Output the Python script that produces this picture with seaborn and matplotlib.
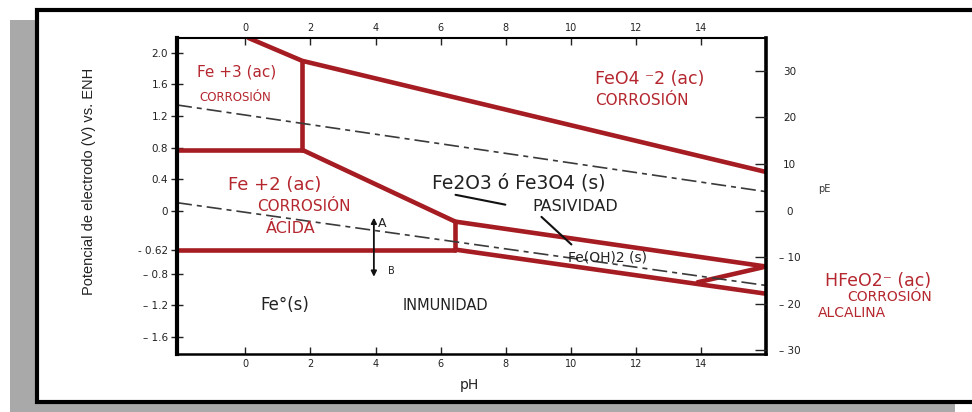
import matplotlib
matplotlib.use('Agg')
import matplotlib.pyplot as plt
import seaborn as sns
from matplotlib.patches import Rectangle

# boundary lines of the Pourbaix diagram (pH, potential V)
fe3_fe2_ph = [-2.1, 1.75]
fe3_fe2_v = [0.77, 0.77]
fe3_vert_ph = [1.75, 1.75]
fe3_vert_v = [0.77, 1.90]
feo4_ph = [0.1, 1.75, 16.0]
feo4_v = [2.19, 1.90, 0.49]
fe2_ox_ph = [1.75, 6.45]
fe2_ox_v = [0.77, -0.14]
fe2_vert_ph = [6.45, 6.45]
fe2_vert_v = [-0.14, -0.495]
fe_fe2_ph = [-2.1, 6.45]
fe_fe2_v = [-0.495, -0.495]
pas_up_ph = [6.45, 16.0]
pas_up_v = [-0.14, -0.71]
pas_low_ph = [6.45, 16.0]
pas_low_v = [-0.495, -1.055]
hfeo2_ph = [13.9, 15.9]
hfeo2_v = [-0.91, -0.72]
# water stability lines
o2_ph = [-2.1, 16.0]
o2_v = [1.34, 0.24]
h2_ph = [-2.1, 16.0]
h2_v = [0.10, -0.95]
# pointer lines
ptr1_ph = [6.46, 7.99]
ptr1_v = [0.20, 0.075]
ptr2_ph = [9.1, 10.02]
ptr2_v = [-0.08, -0.43]

x_ticks = [0, 2, 4, 6, 8, 10, 12, 14]
v_ticks = [2.0, 1.6, 1.2, 0.8, 0.4, 0, -0.495, -0.8, -1.2, -1.6]
v_labels = ['2.0', '1.6', '1.2', '0.8', '0.4', '0', '- 0.62', '– 0.8', '– 1.2', '– 1.6']
pe_ticks = [30, 20, 10, 0, -10, -20, -30]
pe_labels = ['30', '20', '10', '0', '– 10', '– 20', '– 30']

sns.set_style('white')
plt.rcParams['font.family'] = ['DejaVu Sans']

red = '#a51c22'
tred = '#b5272f'
ink = '#222222'

fig = plt.figure(figsize=(9.72, 4.12), dpi=100)
fig.patches.append(Rectangle((10/972, 0), 945/972, 392/412, transform=fig.transFigure,
                             facecolor='#a9a9a9', edgecolor='none', zorder=0))
fig.patches.append(Rectangle((37/972, 10/412), 1.0, 392/412, transform=fig.transFigure,
                             facecolor='white', edgecolor='black', lw=3, zorder=1))

ax = fig.add_axes([177/972, 58/412, 589/972, 316/412])
ax.set_zorder(2)
ylim = (-1.82, 2.19)
ax.set_xlim(-2.1, 16.0)
ax.set_ylim(*ylim)

segs = [(fe3_fe2_ph, fe3_fe2_v), (fe3_vert_ph, fe3_vert_v), (feo4_ph, feo4_v),
        (fe2_ox_ph, fe2_ox_v), (fe2_vert_ph, fe2_vert_v), (fe_fe2_ph, fe_fe2_v),
        (pas_up_ph, pas_up_v), (pas_low_ph, pas_low_v), (hfeo2_ph, hfeo2_v)]
for px, pv in segs:
    sns.lineplot(x=px, y=pv, ax=ax, color=red, lw=3.3, sort=False, estimator=None,
                 solid_capstyle='round')

for px, pv in [(o2_ph, o2_v), (h2_ph, h2_v)]:
    sns.lineplot(x=px, y=pv, ax=ax, color='#3a3a3a', lw=1.2, sort=False, estimator=None,
                 linestyle=(0, (9, 3, 3, 3)))

for px, pv in [(ptr1_ph, ptr1_v), (ptr2_ph, ptr2_v)]:
    sns.lineplot(x=px, y=pv, ax=ax, color='#111111', lw=1.5, sort=False, estimator=None)

ax.annotate('', xy=(3.95, -0.84), xytext=(3.95, -0.09),
            arrowprops=dict(arrowstyle='<|-|>', color='#111111', lw=1.3,
                            mutation_scale=8, shrinkA=0, shrinkB=0))

# region labels
def label(x, y, s, c, fs, ha='center'):
    ax.text(x, y, s, color=c, fontsize=fs, ha=ha, va='center', clip_on=False)

label(-0.28, 1.76, 'Fe +3 (ac)', tred, 11)
label(-0.3, 1.43, 'CORROSIÓN', tred, 8.5)
label(12.44, 1.67, 'FeO4 ⁻2 (ac)', tred, 12.5)
label(12.2, 1.40, 'CORROSIÓN', tred, 11)
label(0.89, 0.32, 'Fe +2 (ac)', tred, 13)
label(1.8, 0.05, 'CORROSIÓN', tred, 11)
label(1.41, -0.23, 'ÁCIDA', tred, 11.5)
label(8.39, 0.355, 'Fe2O3 ó Fe3O4 (s)', ink, 13.5)
label(10.14, 0.05, 'PASIVIDAD', ink, 11.5)
label(11.12, -0.6, 'Fe(OH)2 (s)', ink, 10)
label(1.2, -1.2, 'Fe°(s)', ink, 12)
label(6.16, -1.2, 'INMUNIDAD', ink, 10.5)
label(4.2, -0.17, 'A', ink, 9)
label(4.5, -0.77, 'B', ink, 7)
label(19.45, -0.89, 'HFeO2⁻ (ac)', tred, 12.5)
label(19.8, -1.1, 'CORROSIÓN', tred, 10)
label(17.6, -1.30, 'ALCALINA', tred, 10, ha='left')
label(17.8, 0.27, 'pE', '#333333', 7)

ax.set_xticks(x_ticks)
ax.set_xticklabels([str(t) for t in x_ticks])
ax.set_yticks(v_ticks)
ax.set_yticklabels(v_labels)
ax.tick_params(axis='x', top=True, labeltop=True, bottom=True, labelbottom=True,
               direction='in', length=5, width=1, labelsize=7, colors=ink)
ax.tick_params(axis='y', left=True, direction='inout', length=9, width=1, pad=2,
               labelsize=7.5, colors=ink)
ax.set_xlabel('pH', fontsize=10, color=ink)
ax.xaxis.set_label_coords(0.497, -0.075)
ax.set_ylabel('Potencial de electrodo (V) vs. ENH', fontsize=10.5, color=ink,
              family=['Liberation Sans', 'DejaVu Sans'])
ax.yaxis.set_label_coords(-0.137, 0.547)
for side, w in [('left', 3.0), ('right', 2.6), ('top', 1.5), ('bottom', 1.8)]:
    ax.spines[side].set_visible(True)
    ax.spines[side].set_color('black')
    ax.spines[side].set_linewidth(w)

ax2 = ax.twinx()
ax2.set_zorder(3)
ax2.set_ylim(ylim[0] / 0.0591, ylim[1] / 0.0591)
ax2.set_yticks(pe_ticks)
ax2.set_yticklabels(pe_labels)
ax2.tick_params(axis='y', right=True, direction='in', length=8, width=1, pad=17,
                labelsize=7.5, colors=ink)
for lab in ax2.get_yticklabels():
    lab.set_ha('center')
for side in ['left', 'right', 'top', 'bottom']:
    ax2.spines[side].set_visible(False)

fig.savefig('out.png', dpi=100)
